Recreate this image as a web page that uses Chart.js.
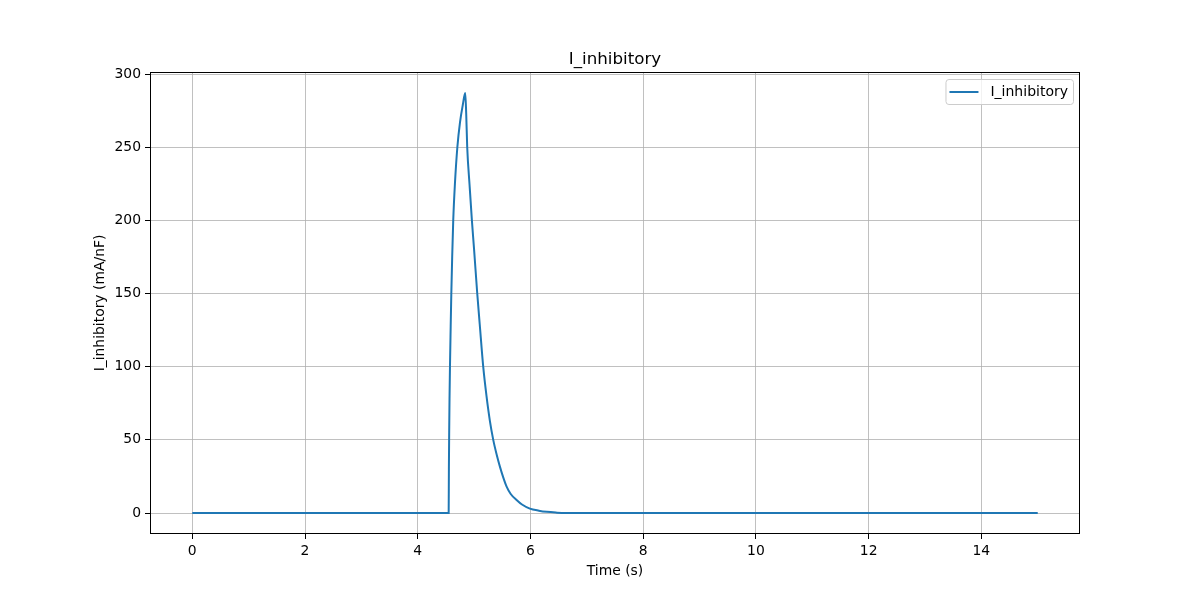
<!DOCTYPE html>
<html>
<head>
<meta charset="utf-8">
<script src="https://cdn.jsdelivr.net/npm/chart.js@4.4.1/dist/chart.umd.min.js"></script>
<style>
  html, body { margin: 0; padding: 0; background: #fff; }
  #wrap { width: 1200px; height: 600px; }
</style>
</head>
<body>
<div id="wrap"><canvas id="chart" width="1200" height="600"></canvas></div>
<script>
// Time (s) and current (mA/nF)
const timeValues = [
  0, 4.549, 4.553, 4.558, 4.564, 4.572, 4.584, 4.596, 4.612, 4.630, 4.660, 4.703, 4.750, 4.800, 4.843,
  4.860, 4.878, 4.920, 4.961, 5.000, 5.056, 5.100, 5.162, 5.220, 5.280, 5.340, 5.400, 5.458, 5.520,
  5.577, 5.650, 5.754, 5.850, 5.990, 6.150, 6.290, 6.450, 6.620, 15
];
const currentValues = [
  0, 0, 30, 55, 78, 100, 126, 150, 176, 200, 225, 250, 267, 279, 287,
  273, 250, 224, 200, 180, 150, 129, 100, 80, 63, 50, 40, 31.7, 24,
  18, 13, 8.9, 5.8, 3.0, 1.6, 0.8, 0.3, 0, 0
];
const xTicks = [0, 2, 4, 6, 8, 10, 12, 14];
const yTicks = [0, 50, 100, 150, 200, 250, 300];
const seriesLabel = 'I_inhibitory';

const FONT = 'DejaVu Sans';

// axes frame on all four sides, like matplotlib spines
const framePlugin = {
  id: 'frame',
  afterDraw(chart) {
    const { ctx, chartArea: a } = chart;
    ctx.save();
    ctx.strokeStyle = '#000';
    ctx.lineWidth = 1;
    ctx.strokeRect(a.left + 0.5, a.top + 0.5, a.right - a.left - 1, a.bottom - a.top - 1);
    ctx.restore();
  }
};

// title centred over the axes, not the canvas
const axesTitle = {
  id: 'axesTitle',
  afterDraw(chart) {
    const { ctx, chartArea: a } = chart;
    ctx.save();
    ctx.font = '16.7px "' + FONT + '"';
    ctx.fillStyle = '#000';
    ctx.textAlign = 'center';
    ctx.textBaseline = 'middle';
    ctx.fillText(seriesLabel, (a.left + a.right) / 2, 60);
    ctx.restore();
  }
};

// boxed legend in the upper right corner of the axes
const boxLegend = {
  id: 'boxLegend',
  afterDraw(chart) {
    const { ctx, chartArea: a } = chart;
    const ds = chart.data.datasets[0];
    ctx.save();
    ctx.font = '14px "' + FONT + '"';
    const tw = ctx.measureText(ds.label).width;
    const w = 45 + tw + 5;
    const h = 25;
    const x = a.right - 7 - w;
    const y = a.top + 7;
    ctx.beginPath();
    ctx.roundRect(x + 0.5, y + 0.5, w, h, 3);
    ctx.fillStyle = 'rgba(255,255,255,0.8)';
    ctx.fill();
    ctx.strokeStyle = '#cccccc';
    ctx.lineWidth = 1;
    ctx.stroke();
    ctx.beginPath();
    ctx.moveTo(x + 4, y + h / 2 + 0.5);
    ctx.lineTo(x + 33, y + h / 2 + 0.5);
    ctx.strokeStyle = ds.borderColor;
    ctx.lineWidth = 2;
    ctx.stroke();
    ctx.fillStyle = '#000';
    ctx.textBaseline = 'middle';
    ctx.fillText(ds.label, x + 45, y + h / 2 + 1);
    ctx.restore();
  }
};

new Chart(document.getElementById('chart'), {
  type: 'line',
  data: {
    datasets: [{
      label: seriesLabel,
      data: timeValues.map((t, i) => ({ x: t, y: currentValues[i] })),
      borderColor: '#1f77b4',
      borderWidth: 2,
      pointRadius: 0,
      cubicInterpolationMode: 'monotone',
      fill: false
    }]
  },
  options: {
    responsive: false,
    animation: false,
    layout: { padding: { left: 0, right: 120, top: 72, bottom: 0 } },
    plugins: {
      legend: { display: false },
      tooltip: { enabled: false },
      title: { display: false }
    },
    scales: {
      x: {
        type: 'linear',
        min: -0.75,
        max: 15.75,
        afterBuildTicks(scale) { scale.ticks = xTicks.map(v => ({ value: v })); },
        afterFit(scale) { scale.height = 66; },
        ticks: { color: '#000', font: { family: FONT, size: 13.9 }, padding: 4, maxRotation: 0 },
        grid: { color: '#b0b0b0', lineWidth: 0.8, tickColor: '#000', tickLength: 5, tickWidth: 1 },
        border: { display: false },
        title: {
          display: true, text: 'Time (s)', color: '#000',
          font: { family: FONT, size: 13.9 }, padding: { top: 0, bottom: 20 }
        }
      },
      y: {
        min: -14.35,
        max: 301.4,
        afterBuildTicks(scale) { scale.ticks = yTicks.map(v => ({ value: v })); },
        afterFit(scale) { scale.width = 150; },
        ticks: { color: '#000', font: { family: FONT, size: 13.9 }, padding: 4 },
        grid: { color: '#b0b0b0', lineWidth: 0.8, tickColor: '#000', tickLength: 5, tickWidth: 1 },
        border: { display: false },
        title: {
          display: true, text: 'I_inhibitory (mA/nF)', color: '#000',
          font: { family: FONT, size: 13.9 }, padding: { top: 92, bottom: 0 }
        }
      }
    }
  },
  plugins: [framePlugin, axesTitle, boxLegend]
});
</script>
</body>
</html>
